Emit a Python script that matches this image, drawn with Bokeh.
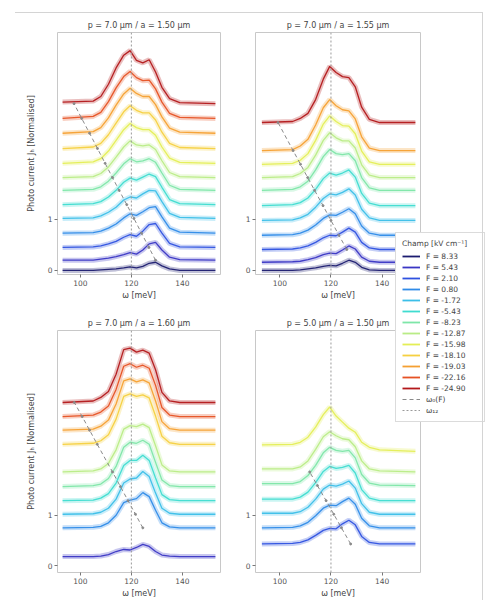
from bokeh.plotting import figure
from bokeh.layouts import gridplot, column
from bokeh.models import FixedTicker, Legend, LegendItem, Span, Div
from bokeh.embed import file_html
from bokeh.resources import INLINE

FONT = "DejaVu Sans"

OMEGA = [93, 105, 108, 111, 114, 117, 119.5, 122, 124.5, 127, 129.5, 132, 135, 139, 153]

FIELD_LABELS = ["F = 8.33", "F = 5.43", "F = 2.10", "F = 0.80", "F = -1.72", "F = -5.43",
                "F = -8.23", "F = -12.87", "F = -15.98", "F = -18.10", "F = -19.03",
                "F = -22.16", "F = -24.90"]
COLORS = ["#1c1c70", "#3a36c4", "#2f52e0", "#2f8be8", "#3cbfe8", "#3fdcd0", "#7ee6a8",
          "#b9ec86", "#e4ee55", "#f6d040", "#f5a032", "#e65224", "#b3181a"]
LEGEND_TITLE = "Champ [kV cm⁻¹]"
EXTRA_LABELS = ["ω₀(F)", "ω₁₂"]
X_TICKS = [100, 120, 140]
Y_TICKS = [0, 1]
OMEGA_REF = 120

# ---- panel A : p = 7.0 um / a = 1.50 um
A_TITLE = "p = 7.0 μm / a = 1.50 μm"
A_IDX = [0, 1, 2, 3, 4, 5, 6, 7, 8, 9, 10, 11, 12]
A_OFFSET = [0, 0.2, 0.45, 0.73, 1.02, 1.29, 1.57, 1.82, 2.1, 2.39, 2.69, 2.98, 3.27]
A_W0 = [None, 129.5, 126.9, 124.0, 121.0, 118.2, 115.2, 112.6, 109.7, 106.7, 103.6, 100.5, 97.5]
A_H = [
    [0, 0, 0.01, 0.02, 0.03, 0.05, 0.07, 0.05, 0.08, 0.14, 0.16, 0.09, 0.03, 0, 0],
    [0, 0, 0.02, 0.04, 0.07, 0.11, 0.15, 0.12, 0.2, 0.32, 0.35, 0.2, 0.06, 0.01, 0],
    [0, 0.01, 0.03, 0.07, 0.12, 0.2, 0.25, 0.22, 0.32, 0.45, 0.47, 0.28, 0.08, 0.01, 0],
    [0, 0.01, 0.04, 0.1, 0.18, 0.3, 0.38, 0.35, 0.42, 0.5, 0.52, 0.32, 0.1, 0.02, 0],
    [0, 0.01, 0.05, 0.12, 0.22, 0.36, 0.42, 0.4, 0.48, 0.55, 0.54, 0.33, 0.1, 0.02, 0],
    [0, 0.02, 0.06, 0.15, 0.28, 0.44, 0.52, 0.48, 0.54, 0.6, 0.55, 0.34, 0.1, 0.02, 0],
    [0, 0.02, 0.07, 0.18, 0.34, 0.52, 0.62, 0.56, 0.58, 0.62, 0.55, 0.34, 0.1, 0.02, 0],
    [0, 0.02, 0.08, 0.21, 0.4, 0.6, 0.72, 0.64, 0.62, 0.64, 0.55, 0.33, 0.1, 0.02, 0],
    [0, 0.03, 0.09, 0.24, 0.45, 0.66, 0.78, 0.7, 0.66, 0.66, 0.55, 0.32, 0.1, 0.02, 0],
    [0, 0.03, 0.1, 0.27, 0.5, 0.72, 0.84, 0.75, 0.7, 0.7, 0.56, 0.32, 0.1, 0.02, 0],
    [0, 0.03, 0.11, 0.3, 0.55, 0.77, 0.88, 0.78, 0.72, 0.72, 0.56, 0.32, 0.1, 0.02, 0],
    [0, 0.04, 0.12, 0.33, 0.6, 0.82, 0.92, 0.8, 0.74, 0.75, 0.58, 0.32, 0.1, 0.02, 0],
    [0.03, 0.05, 0.14, 0.38, 0.7, 0.95, 1.04, 0.85, 0.8, 0.86, 0.62, 0.32, 0.1, 0.02, 0],
]

# ---- panel B : p = 7.0 um / a = 1.55 um
B_TITLE = "p = 7.0 μm / a = 1.55 μm"
B_IDX = [0, 1, 2, 3, 4, 5, 6, 7, 8, 10, 12]
B_OFFSET = [0, 0.16, 0.41, 0.69, 0.98, 1.27, 1.57, 1.82, 2.08, 2.35, 2.9]
B_W0 = [None, None, 126.2, 123.1, 120.0, 116.9, 113.6, 110.9, 108.1, 105.2, 99.3]
B_H = [
    [0, 0, 0.01, 0.03, 0.05, 0.08, 0.1, 0.09, 0.14, 0.2, 0.16, 0.06, 0.01, 0, 0],
    [0, 0.01, 0.02, 0.05, 0.09, 0.15, 0.18, 0.17, 0.24, 0.32, 0.26, 0.1, 0.02, 0, 0],
    [0, 0.01, 0.03, 0.07, 0.14, 0.23, 0.28, 0.27, 0.34, 0.42, 0.34, 0.14, 0.03, 0, 0],
    [0, 0.01, 0.04, 0.1, 0.2, 0.33, 0.4, 0.39, 0.45, 0.52, 0.42, 0.18, 0.04, 0, 0],
    [0, 0.01, 0.05, 0.12, 0.26, 0.43, 0.52, 0.5, 0.55, 0.62, 0.5, 0.22, 0.05, 0, 0],
    [0, 0.02, 0.06, 0.15, 0.32, 0.53, 0.64, 0.6, 0.64, 0.7, 0.56, 0.24, 0.05, 0, 0],
    [0, 0.02, 0.07, 0.18, 0.4, 0.66, 0.8, 0.72, 0.7, 0.72, 0.58, 0.25, 0.05, 0, 0],
    [0, 0.02, 0.08, 0.2, 0.44, 0.73, 0.88, 0.78, 0.72, 0.72, 0.58, 0.25, 0.05, 0, 0],
    [0, 0.02, 0.08, 0.21, 0.47, 0.79, 0.95, 0.84, 0.76, 0.75, 0.6, 0.26, 0.05, 0, 0],
    [0, 0.02, 0.09, 0.22, 0.5, 0.84, 1.0, 0.88, 0.8, 0.78, 0.62, 0.27, 0.05, 0, 0],
    [0, 0.02, 0.08, 0.18, 0.45, 0.85, 1.1, 0.98, 0.9, 0.88, 0.7, 0.3, 0.06, 0, 0],
]

# ---- panel C : p = 7.0 um / a = 1.60 um
C_TITLE = "p = 7.0 μm / a = 1.60 μm"
C_IDX = [1, 3, 4, 5, 6, 7, 9, 10, 11, 12]
C_OFFSET = [0.18, 0.75, 1.02, 1.29, 1.57, 1.86, 2.41, 2.69, 2.96, 3.24]
C_W0 = [None, 124.5, 121.6, 118.7, 115.7, 112.6, 106.6, 103.6, 100.7, 97.6]
C_H = [
    [0, 0, 0.01, 0.04, 0.1, 0.14, 0.13, 0.18, 0.24, 0.2, 0.1, 0.03, 0.01, 0, 0],
    [0, 0.01, 0.03, 0.1, 0.25, 0.5, 0.55, 0.58, 0.7, 0.62, 0.35, 0.1, 0.02, 0, 0],
    [0, 0.01, 0.04, 0.12, 0.3, 0.62, 0.7, 0.72, 0.85, 0.75, 0.42, 0.12, 0.02, 0, 0],
    [0, 0.01, 0.05, 0.14, 0.35, 0.7, 0.8, 0.8, 0.9, 0.8, 0.45, 0.12, 0.02, 0, 0],
    [0, 0.02, 0.05, 0.16, 0.4, 0.78, 0.88, 0.86, 0.92, 0.84, 0.48, 0.13, 0.02, 0, 0],
    [0, 0.02, 0.06, 0.17, 0.44, 0.85, 0.92, 0.9, 0.95, 0.88, 0.52, 0.14, 0.02, 0, 0],
    [0, 0.02, 0.07, 0.19, 0.5, 0.95, 1.0, 0.95, 0.98, 0.92, 0.56, 0.16, 0.03, 0, 0],
    [0, 0.02, 0.08, 0.2, 0.52, 0.98, 1.02, 0.96, 1.0, 0.94, 0.58, 0.17, 0.03, 0, 0],
    [0, 0.03, 0.09, 0.21, 0.54, 1.0, 1.05, 0.98, 1.02, 0.96, 0.62, 0.18, 0.03, 0, 0],
    [0, 0.03, 0.1, 0.22, 0.56, 1.05, 1.08, 1.0, 1.04, 0.98, 0.65, 0.2, 0.03, 0, 0],
]

# ---- panel D : p = 5.0 um / a = 1.50 um
D_TITLE = "p = 5.0 μm / a = 1.50 μm"
D_IDX = [2, 3, 4, 5, 6, 7, 8]
D_OFFSET = [0.43, 0.75, 1.02, 1.29, 1.59, 1.86, 2.25]
D_W0 = [127.7, 124.1, 121.1, 118.1, 114.7, 111.7, None]
D_H = [
    [0, 0.01, 0.03, 0.08, 0.17, 0.27, 0.31, 0.3, 0.4, 0.47, 0.38, 0.15, 0.03, 0, 0],
    [0, 0.01, 0.04, 0.11, 0.24, 0.39, 0.45, 0.44, 0.52, 0.59, 0.47, 0.19, 0.04, 0, 0],
    [0.02, 0.02, 0.05, 0.14, 0.3, 0.5, 0.58, 0.56, 0.6, 0.66, 0.52, 0.21, 0.04, 0, 0],
    [0.03, 0.03, 0.07, 0.17, 0.36, 0.58, 0.68, 0.64, 0.66, 0.7, 0.55, 0.22, 0.05, 0, 0],
    [0.04, 0.04, 0.08, 0.2, 0.4, 0.65, 0.76, 0.7, 0.68, 0.7, 0.55, 0.22, 0.05, 0.01, 0],
    [0.06, 0.06, 0.1, 0.22, 0.45, 0.7, 0.8, 0.72, 0.66, 0.64, 0.5, 0.22, 0.06, 0.02, 0],
    [0.15, 0.16, 0.2, 0.3, 0.5, 0.75, 0.9, 0.72, 0.6, 0.48, 0.4, 0.2, 0.1, 0.05, 0.02],
]


def make_panel(title, idx, offsets, heights, w0, width, height, left, right, top, bottom,
               x_range, y_range, ylabel):
    p = figure(width=width, height=height, output_backend="svg", toolbar_location=None,
               x_range=x_range, y_range=y_range, min_border_left=left, min_border_right=right,
               min_border_top=top, min_border_bottom=bottom)
    p.title.text = title
    p.title.align = "center"
    p.title.text_font = FONT
    p.title.text_font_size = "8px"
    p.title.text_font_style = "normal"
    p.title.text_color = "#444444"
    p.title.standoff = 5
    p.grid.visible = False
    p.outline_line_color = "#c8c8c8"
    p.background_fill_color = "white"
    p.border_fill_color = None
    for ax in (p.xaxis[0], p.yaxis[0]):
        ax.axis_line_color = None
        ax.major_tick_line_color = "#777777"
        ax.major_tick_out = 3
        ax.major_tick_in = 0
        ax.minor_tick_line_color = None
        ax.major_label_text_font = FONT
        ax.major_label_text_font_size = "7.5px"
        ax.major_label_text_color = "#555555"
        ax.major_label_standoff = 2
        ax.axis_label_text_font = FONT
        ax.axis_label_text_font_size = "8px"
        ax.axis_label_text_font_style = "normal"
        ax.axis_label_text_color = "#444444"
    p.xaxis.ticker = FixedTicker(ticks=X_TICKS)
    p.yaxis.ticker = FixedTicker(ticks=Y_TICKS)
    p.xaxis.axis_label = "ω [meV]"
    p.xaxis.axis_label_standoff = 2
    if ylabel:
        p.yaxis.axis_label = "Photo current Jₕ [Normalised]"
        p.yaxis.axis_label_standoff = 9

    p.add_layout(Span(location=OMEGA_REF, dimension="height", line_color="#9a9a9a",
                      line_dash="2 2", line_width=1))

    for k, off, h in zip(idx, offsets, heights):
        ys = [off + v for v in h]
        p.line(OMEGA, ys, color=COLORS[k], line_width=5, line_alpha=0.28)
        p.line(OMEGA, ys, color=COLORS[k], line_width=1.3, line_alpha=0.95)

    wx = [w for w in w0 if w is not None]
    wy = [o for w, o in zip(w0, offsets) if w is not None]
    p.line(wx, wy, color="#8a8a8a", line_dash="4 3", line_width=1)
    p.scatter(wx, wy, size=2, color="#8a8a8a")
    return p


# legend proxies: a two-point line kept outside the legend canvas' visible range
PROXY_X = [5, 6]
PROXY_Y = [5, 5]


def add_legend(p, loc):
    items = []
    for k, lab in enumerate(FIELD_LABELS):
        r = p.line(PROXY_X, PROXY_Y, color=COLORS[k], line_width=1.8)
        items.append(LegendItem(label=lab, renderers=[r]))
    r = p.line(PROXY_X, PROXY_Y, color="#8a8a8a", line_dash="4 3", line_width=1)
    items.append(LegendItem(label=EXTRA_LABELS[0], renderers=[r]))
    r = p.line(PROXY_X, PROXY_Y, color="#9a9a9a", line_dash="2 2", line_width=1)
    items.append(LegendItem(label=EXTRA_LABELS[1], renderers=[r]))
    leg = Legend(items=items, location=loc, title=LEGEND_TITLE,
                 title_text_font=FONT, title_text_font_size="7.5px",
                 title_text_font_style="normal", title_text_color="#444444",
                 title_standoff=3,
                 label_text_font=FONT, label_text_font_size="7.5px", label_text_color="#444444",
                 glyph_width=18, glyph_height=10, label_height=10, label_width=52,
                 label_standoff=6, spacing=1, padding=6, margin=0,
                 border_line_color="#b8b8b8", background_fill_color="white",
                 background_fill_alpha=1.0)
    p.add_layout(leg)


TOP_H = 305
BOT_H = 295
LEFT_W = 221
RIGHT_W = 266

pA = make_panel(A_TITLE, A_IDX, A_OFFSET, A_H, A_W0, LEFT_W, TOP_H, 57, 1, 32, 31,
                (91, 155), (-0.08, 4.665), True)
pB = make_panel(B_TITLE, B_IDX, B_OFFSET, B_H, B_W0, RIGHT_W, TOP_H, 34, 67, 32, 31,
                (90.5, 155), (-0.08, 4.665), False)
pC = make_panel(C_TITLE, C_IDX, C_OFFSET, C_H, C_W0, LEFT_W, BOT_H, 57, 1, 25, 25,
                (91, 155), (-0.137, 4.67), True)
pD = make_panel(D_TITLE, D_IDX, D_OFFSET, D_H, D_W0, RIGHT_W, BOT_H, 34, 67, 25, 25,
                (90.5, 155), (-0.137, 4.67), False)

grid = gridplot([[pA, pB], [pC, pD]], toolbar_location=None)

# legend on its own small canvas, laid over the right-hand panels
LEG_W, LEG_H = 92, 196
pL = figure(width=LEG_W, height=LEG_H, output_backend="svg", toolbar_location=None,
            x_axis_location=None, y_axis_location=None, min_border=0,
            x_range=(0, 1), y_range=(0, 1))
pL.outline_line_color = None
pL.background_fill_color = None
pL.border_fill_color = None
pL.grid.visible = False
add_legend(pL, "top_left")
pL.margin = (232 - (TOP_H + BOT_H), 0, 0, 395)

# thin frame of the whole figure (top and right edges)
frame_box = Div(text="", width=468, height=588,
                styles={"border-top": "1px solid #d4d4d4", "border-right": "1px solid #d4d4d4"})
frame_box.margin = (12 - (232 + LEG_H), 0, 0, 15)

root = column(grid, pL, frame_box, spacing=0)

open("out.html", "w").write(file_html(root, INLINE))
